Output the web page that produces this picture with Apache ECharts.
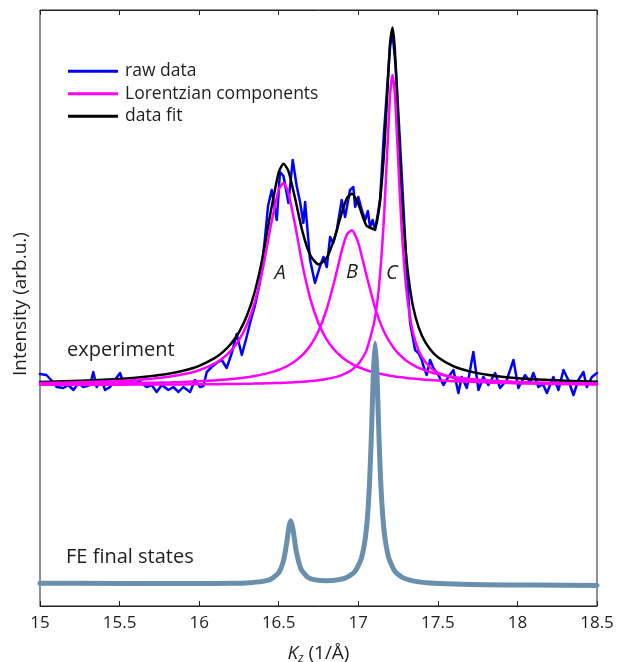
<!DOCTYPE html>
<html>
<head>
<meta charset="utf-8">
<script src="https://cdn.jsdelivr.net/npm/echarts@6/dist/echarts.min.js"></script>
<style>
  html, body { margin: 0; padding: 0; background: #fff; }
  #chart { width: 617px; height: 662px; }
</style>
</head>
<body>
<div id="chart"></div>
<script>
// Kz grid of the fitted curves (1/Å)
var fitK = [15.0, 15.2, 15.4, 15.6, 15.8, 15.9, 16.0, 16.1, 16.15, 16.2, 16.25, 16.3, 16.35, 16.4, 16.45,
  16.5, 16.53, 16.56, 16.6, 16.65, 16.7, 16.75, 16.8, 16.85, 16.9, 16.93, 16.96, 17.0, 17.05, 17.1,
  17.13, 17.16, 17.18, 17.2, 17.215, 17.23, 17.25, 17.27, 17.3, 17.33, 17.36, 17.4, 17.45, 17.5, 17.6,
  17.7, 17.8, 17.9, 18.0, 18.2, 18.5];
// data fit (sum of components)
var fitTotal = [224.0, 224.9, 226.2, 228.3, 232.1, 235.3, 240.2, 248.1, 254.1, 262.3, 273.7, 290.2, 314.5, 349.4, 394.3,
  433.7, 442.3, 435.3, 409.7, 373.9, 350.1, 341.6, 347.8, 367.7, 395.3, 408.1, 412.2, 402.2, 380.7, 376.6,
  396.6, 448.7, 505.9, 563.2, 578.6, 555.7, 488.2, 420.6, 351.2, 311.9, 288.7, 270.2, 256.9, 248.8, 239.6,
  234.6, 231.5, 229.3, 227.8, 225.9, 224.2];
// Lorentzian components A, B, C
var compA = [222.9, 223.5, 224.4, 226.0, 229.0, 231.7, 235.8, 242.7, 248.0, 255.4, 265.9, 281.3, 304.1, 337.3, 380.0,
  416.5, 422.9, 413.4, 383.5, 340.5, 306.4, 282.8, 266.9, 256.1, 248.5, 245.0, 242.1, 239.0, 236.0, 233.6,
  232.5, 231.5, 230.9, 230.3, 229.9, 229.6, 229.1, 228.7, 228.1, 227.6, 227.2, 226.6, 226.1, 225.6, 224.8,
  224.2, 223.7, 223.3, 223.0, 222.6, 222.1];
var compB = [221.9, 222.1, 222.4, 222.9, 223.6, 224.1, 224.7, 225.6, 226.2, 226.9, 227.7, 228.7, 230.0, 231.6, 233.6,
  236.2, 238.2, 240.5, 244.5, 251.2, 260.8, 275.0, 296.0, 325.0, 357.6, 371.8, 375.8, 363.2, 331.6, 301.1,
  286.6, 275.0, 268.7, 263.3, 259.7, 256.5, 252.8, 249.7, 245.6, 242.4, 239.7, 236.8, 234.0, 231.9, 229.0,
  227.0, 225.7, 224.8, 224.1, 223.2, 222.5];
var compC = [221.2, 221.3, 221.3, 221.4, 221.5, 221.6, 221.7, 221.8, 221.9, 222.0, 222.1, 222.2, 222.4, 222.6, 222.8,
  223.0, 223.2, 223.4, 223.7, 224.2, 224.9, 225.8, 226.9, 228.6, 231.2, 233.3, 236.3, 242.0, 255.1, 283.9,
  319.5, 384.2, 448.3, 511.6, 531.0, 511.6, 448.3, 384.2, 319.5, 283.9, 263.8, 248.8, 238.8, 233.3, 227.9,
  225.4, 224.0, 223.2, 222.7, 222.1, 221.6];

// raw data
var rawK = [15.0, 15.04, 15.07, 15.105, 15.147, 15.178, 15.21, 15.241, 15.272, 15.314, 15.335, 15.356, 15.388, 15.409,
  15.44, 15.461, 15.503, 15.524, 15.555, 15.587, 15.629, 15.67, 15.702, 15.733, 15.765, 15.807, 15.838, 15.87,
  15.9, 15.943, 15.974, 16.006, 16.027, 16.048, 16.079, 16.11, 16.142, 16.173, 16.205, 16.236, 16.268, 16.3,
  16.32, 16.35, 16.38, 16.41, 16.433, 16.456, 16.488, 16.508, 16.53, 16.561, 16.588, 16.613, 16.634, 16.655,
  16.666, 16.697, 16.728, 16.76, 16.781, 16.802, 16.823, 16.843, 16.865, 16.896, 16.917, 16.948, 16.969, 16.98,
  17.0, 17.022, 17.043, 17.06, 17.074, 17.09, 17.106, 17.137, 17.16, 17.18, 17.2, 17.215, 17.235, 17.26, 17.29,
  17.31, 17.326, 17.357, 17.378, 17.399, 17.407, 17.43, 17.451, 17.472, 17.5, 17.535, 17.566, 17.598, 17.629,
  17.65, 17.682, 17.723, 17.755, 17.786, 17.818, 17.86, 17.891, 17.933, 17.975, 18.006, 18.048, 18.08, 18.1,
  18.132, 18.16, 18.185, 18.226, 18.258, 18.289, 18.32, 18.352, 18.383, 18.415, 18.436, 18.468, 18.5];
var rawI = [232, 231, 226, 219, 218, 221, 216, 223, 219, 221, 234, 219, 226, 216,
  219, 224, 233, 223, 225, 223, 224, 219, 221, 214, 221, 216, 219, 214,
  219, 214, 226, 219, 220, 234, 239, 243, 246, 238, 253, 272, 251, 270,
  283, 300, 322, 362, 400, 416, 386, 434, 430, 403, 446, 420, 404, 383,
  404, 346, 323, 340, 349, 339, 369, 363, 376, 406, 389, 416, 419, 399,
  409, 396, 386, 395, 379, 386, 376, 406, 470, 515, 560, 572, 540, 470, 380,
  320, 283, 256, 253, 246, 241, 231, 246, 238, 232, 221, 229, 236, 213,
  229, 218, 254, 216, 229, 221, 233, 218, 226, 246, 218, 231, 224, 233,
  219, 222, 213, 229, 216, 236, 226, 211, 226, 234, 219, 229, 233];

// FE final states
var feK = [15.0, 15.5, 16.0, 16.2, 16.3, 16.4, 16.45, 16.5, 16.53, 16.55, 16.565, 16.576, 16.59, 16.61, 16.64,
  16.68, 16.73, 16.8, 16.87, 16.93, 16.98, 17.02, 17.05, 17.07, 17.085, 17.095, 17.106, 17.117, 17.127, 17.14,
  17.16, 17.19, 17.23, 17.28, 17.35, 17.45, 17.6, 17.8, 18.1, 18.5];
var feI = [22.8, 22.5, 22.4, 22.7, 23.1, 24.6, 26.7, 33.3, 45.4, 62.8, 79.5, 85.3, 76.6, 54.9, 37.0,
  29.1, 26.1, 25.3, 26.1, 28.8, 34.8, 47.9, 75.4, 120.5, 183.5, 234.3, 262.7, 234.2, 183.4, 127.1,
  78.4, 48.8, 34.7, 28.4, 24.9, 23.0, 21.9, 21.3, 20.9, 20.5];

function pairs (xs, ys) {
  return xs.map(function (x, i) { return [x, ys[i]]; });
}

var FONT = 'Open Sans';
var TXT = '#1e1e1e';
var dom = echarts.init(document.getElementById('chart'));

function lineSeries (name, data, color, width, smooth) {
  return {
    name: name,
    type: 'line',
    data: data,
    xAxisIndex: 0,
    symbol: 'none',
    smooth: smooth,
    animation: false,
    color: color,
    lineStyle: { color: color, width: width, join: 'round', cap: 'round' }
  };
}

dom.setOption({
  animation: false,
  grid: {
    left: 40, right: 20, top: 10, bottom: 56,
    outerBoundsMode: 'none',
    show: true, borderColor: '#222', borderWidth: 1
  },
  legend: {
    orient: 'vertical',
    left: 68,
    top: 60,
    padding: 0,
    itemWidth: 50,
    itemHeight: 3,
    itemGap: 0,
    icon: 'rect',
    data: ['raw data', 'Lorentzian components', 'data fit'],
    textStyle: { fontFamily: FONT, fontSize: 17.5, color: TXT, lineHeight: 22.5, padding: [0, 0, 0, 2] }
  },
  xAxis: [{
    type: 'value', min: 15, max: 18.5, interval: 0.5, position: 'bottom',
    axisLine: { show: true, lineStyle: { color: '#222' } },
    axisTick: { show: true, inside: true, length: 5, lineStyle: { color: '#222' } },
    axisLabel: { fontFamily: FONT, fontSize: 17, color: TXT, margin: 9 },
    splitLine: { show: false },
    name: '{i|K}{s|z} (1/Å)',
    nameLocation: 'middle',
    nameGap: 37,
    nameTextStyle: {
      fontFamily: FONT, fontSize: 19, color: TXT,
      rich: {
        i: { fontFamily: FONT, fontSize: 19, fontStyle: 'italic', color: TXT },
        s: { fontFamily: FONT, fontSize: 12, fontStyle: 'italic', color: TXT, padding: [10, 0, 0, 0] }
      }
    }
  }, {
    type: 'value', min: 15, max: 18.5, interval: 0.5, position: 'top',
    axisLine: { show: true, lineStyle: { color: '#222' } },
    axisTick: { show: true, inside: true, length: 5, lineStyle: { color: '#222' } },
    axisLabel: { show: false },
    splitLine: { show: false }
  }],
  yAxis: {
    type: 'value', min: 0, max: 596,
    axisLine: { show: false }, axisTick: { show: false }, axisLabel: { show: false }, splitLine: { show: false },
    name: 'Intensity (arb.u.)',
    nameLocation: 'middle',
    nameGap: 10,
    nameTextStyle: { fontFamily: FONT, fontSize: 19, color: TXT, padding: [0, 0, 0, 8] }
  },
  graphic: [
    { type: 'text', style: { text: 'experiment', x: 67, y: 350, font: '20px "Open Sans"', fill: TXT, verticalAlign: 'middle' } },
    { type: 'text', style: { text: 'FE final states', x: 66, y: 557, font: '20px "Open Sans"', fill: TXT, verticalAlign: 'middle' } },
    { type: 'text', style: { text: 'A', x: 280, y: 273, font: 'italic 20px "Open Sans"', fill: TXT, align: 'center', verticalAlign: 'middle' } },
    { type: 'text', style: { text: 'B', x: 352, y: 272, font: 'italic 20px "Open Sans"', fill: TXT, align: 'center', verticalAlign: 'middle' } },
    { type: 'text', style: { text: 'C', x: 392, y: 273, font: 'italic 20px "Open Sans"', fill: TXT, align: 'center', verticalAlign: 'middle' } }
  ],
  series: [
    lineSeries('raw data', pairs(rawK, rawI), '#0000ff', 2.5, false),
    lineSeries('data fit', pairs(fitK, fitTotal), '#000000', 2.5, 0.2),
    lineSeries('Lorentzian components', pairs(fitK, compA), '#ff00ff', 2.5, 0.2),
    lineSeries('Lorentzian components', pairs(fitK, compB), '#ff00ff', 2.5, 0.2),
    lineSeries('Lorentzian components', pairs(fitK, compC), '#ff00ff', 2.5, 0.2),
    lineSeries('FE final states', pairs(feK, feI), '#6a8fad', 5, 0.2)
  ]
});
</script>
</body>
</html>
